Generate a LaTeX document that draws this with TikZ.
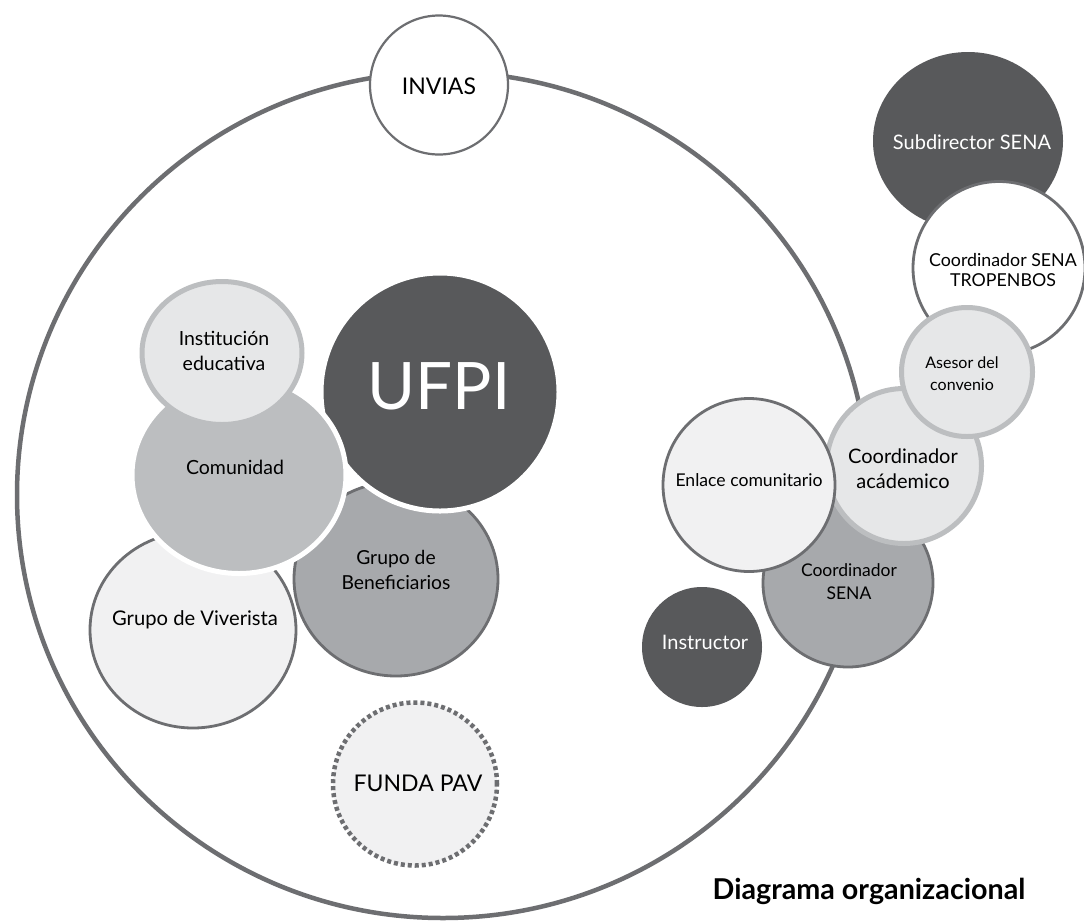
\documentclass[tikz,border=0pt]{standalone}
\usepackage{fontspec}
\setmainfont{Lato}
\usetikzlibrary{shapes.geometric}
\definecolor{dk}{HTML}{58595B}
\definecolor{sg}{HTML}{6D6E71}
\definecolor{md}{HTML}{A7A9AC}
\definecolor{lm}{HTML}{BCBEC0}
\definecolor{lt}{HTML}{E6E7E8}
\definecolor{lr}{HTML}{F1F1F2}
\newcommand\fsz[2]{\fontsize{#1}{#2}\selectfont}
\begin{document}
\begin{tikzpicture}[x=1pt,y=-1pt,
  bub/.style={ellipse, inner sep=0pt, outer sep=0pt},
  grayedge/.style={bub, draw=sg, line width=2.8pt},
  lightedge/.style={bub, draw=lm, line width=5pt},
  whiteedge/.style={bub, draw=white, line width=5pt},
  dark/.style={bub, fill=dk},
  txt/.style={inner sep=0pt, align=center, text=black},
  wtxt/.style={txt, text=white}]
\useasboundingbox (0,0) rectangle (1084,922);
\fill[white] (0,0) rectangle (1084,922);
% big circle
\node[bub, draw=sg, line width=4.5pt, minimum width=852, minimum height=846] (big) at (443,495) {};
% INVIAS
\node[bub, draw=sg, line width=2.2pt, fill=white, minimum width=138, minimum height=139] (invias) at (439,85) {};
\node[txt, font=\fsz{23}{27}] (invias-t) at (439,86) {INVIAS};
% left cluster
\node[grayedge, fill=lr, minimum width=206, minimum height=196] (viv) at (193,630) {};
\node[grayedge, fill=md, minimum width=204, minimum height=194] (ben) at (396,579) {};
\node[whiteedge, fill=dk, minimum width=238, minimum height=238] (ufpi) at (440,392) {};
\node[whiteedge, fill=lm, minimum width=214, minimum height=197] (com) at (239,475) {};
\node[lightedge, fill=lt, minimum width=160, minimum height=143] (inst) at (222,353) {};
\node[txt, font=\fsz{20.2}{24}] (viv-t) at (195,620) {Grupo de Viverista};
\node[txt, font=\fsz{19.3}{25}] (ben-t) at (396,570) {Grupo de\\Beneficiarios};
\node[wtxt, font=\fsz{65.5}{70}] (ufpi-t) at (439,386) {UFPI};
\node[txt, font=\fsz{19.5}{24}] (com-t) at (235,467) {Comunidad};
\node[txt, font=\fsz{19.5}{25}] (inst-t) at (224,351) {Institución\\educativa};
% FUNDA PAV
\node[bub, fill=lr, draw=sg, line width=4.5pt, dash pattern=on 4pt off 3pt, minimum width=164, minimum height=163] (funda) at (415,784) {};
\node[txt, font=\fsz{23}{27}] (funda-t) at (418,783) {FUNDA PAV};
% right cluster
\node[dark, minimum width=190, minimum height=178] (sub) at (968,141) {};
\node[grayedge, fill=white, minimum width=172, minimum height=173] (trop) at (999,268) {};
\node[grayedge, fill=md, minimum width=170, minimum height=168] (csena) at (848,583) {};
\node[lightedge, fill=lt, minimum width=155, minimum height=155] (acad) at (904,466) {};
\node[lightedge, fill=lt, minimum width=131, minimum height=129] (ases) at (967,372) {};
\node[grayedge, fill=lr, minimum width=172, minimum height=173] (enl) at (749,485) {};
\node[dark, minimum width=120, minimum height=120] (instr) at (702,647) {};
\node[wtxt, font=\fsz{20}{24}] (sub-t) at (972,142) {Subdirector SENA};
\node[txt, font=\fsz{17.8}{20}] (trop-t) at (1003,270) {Coordinador SENA\\TROPENBOS};
\node[txt, font=\fsz{17.5}{23}] (csena-t) at (849,582) {Coordinador\\SENA};
\node[txt, font=\fsz{20}{25}] (acad-t) at (903,469) {Coordinador\\acádemico};
\node[txt, font=\fsz{16}{22}] (ases-t) at (962,374) {Asesor del\\convenio};
\node[txt, font=\fsz{17.6}{21}] (enl-t) at (749,480) {Enlace comunitario};
\node[wtxt, font=\fsz{20}{24}] (instr-t) at (705,642) {Instructor};
% title
\node[txt, font=\bfseries\fsz{28.7}{34}] (title) at (869,891) {Diagrama organizacional};
\end{tikzpicture}
\end{document}
